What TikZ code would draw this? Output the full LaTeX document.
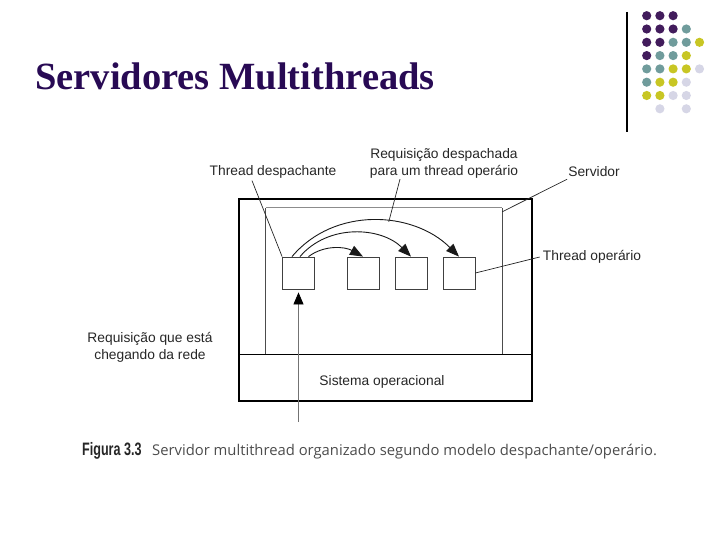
\documentclass[tikz,border=0pt]{standalone}
\usepackage{fontspec}
\usepackage{tikz}
\usetikzlibrary{arrows.meta}
\setmainfont{Liberation Sans}
\newfontfamily\titlefont{Liberation Serif}
\newfontfamily\capfont{Open Sans}

\definecolor{dotP}{RGB}{66,28,92}
\definecolor{dotT}{RGB}{112,156,156}
\definecolor{dotY}{RGB}{200,198,36}
\definecolor{dotL}{RGB}{214,214,230}
\definecolor{titlecol}{RGB}{40,10,84}

\tikzset{
	lbl/.style={font=\fontsize{13.8}{17}\selectfont, text=black!85, inner sep=0pt, align=center},
	thr/.style={draw=black!75, line width=0.8pt, minimum size=32pt, inner sep=0pt},
	lead/.style={draw=black!85, line width=0.7pt},
	disp/.style={draw=black!90, line width=0.9pt, -{Triangle[length=13pt,width=10pt]}},
}

\begin{document}
\begin{tikzpicture}[x=1pt,y=-1pt]
		\useasboundingbox (0,0) rectangle (720,540);

		\foreach \cl [count=\r from 0] in {{dotP,dotP,dotP},{dotP,dotP,dotP,dotT},{dotP,dotP,dotT,dotT,dotY},{dotP,dotT,dotT,dotY},{dotT,dotT,dotY,dotY,dotL},{dotT,dotY,dotY,dotL},{dotY,dotY,dotL,dotL},{none,dotL,none,dotL}}
			\foreach \c [count=\k from 0] in \cl
				\path[fill=\c] (646.7+13.2*\k,15.7+13.3*\r) circle (4.6);
		\draw[line width=2pt] (627,12) -- (627,132);

		\draw (35,90) node[anchor=base west, inner sep=0pt, text=titlecol, font=\titlefont\bfseries\fontsize{38.5}{40}\selectfont] (title) {Servidores Multithreads};

		\draw (385.5,300) node[draw, line width=1.7pt, minimum width=293pt, minimum height=202pt] (server) {};
		\draw[line width=1pt] (server.west |- 0,354) -- (server.east |- 0,354);
		\draw (384,281) node[minimum width=236pt, minimum height=146pt, inner sep=0pt] (app) {};
		\draw[black!70, line width=0.8pt] (app.south west) -- (app.north west);
		\draw[black!45, line width=0.8pt] (app.north west) -- (app.north east);
		\draw[black!70, line width=0.8pt] (app.north east) -- (app.south east);

		\draw (298.5,273) node[thr] (disp) {};
		\draw (363,273) node[thr] (op1) {};
		\draw (411,273) node[thr] (op2) {};
		\draw (459,273) node[thr] (op3) {};

		\draw[disp] ([xshift=10pt]disp.north) .. controls +(16,-12) and +(-18,-10) .. (op1.north);
		\draw[disp] ([xshift=1.5pt]disp.north) .. controls +(28,-33) and +(-30,-30) .. (op2.north);
		\draw[disp] ([xshift=-6.5pt]disp.north) .. controls +(42,-50) and +(-46,-46) .. node[pos=0.58, coordinate] (arc) {} (op3.north);

		\draw (273,172) node[lbl] (tdesp) {Thread despachante};
		\draw (444,163) node[lbl] (reqd) {Requisição despachada\\para um thread operário};
		\draw (594,172) node[lbl] (srv) {Servidor};
		\draw (592,257) node[lbl] (top) {Thread operário};
		\draw (150,347) node[lbl] (reqn) {Requisição que está\\chegando da rede};
		\draw (382,382) node[lbl] (os) {Sistema operacional};

		\draw[lead] ([xshift=-21pt,yshift=-2pt]tdesp.south) -- (disp.north west);
		\draw[lead] ([xshift=-44pt,yshift=-1pt]reqd.south) -- (arc);
		\draw[lead] ([xshift=-1pt,yshift=-2pt]srv.south west) -- ([yshift=-4pt]app.north east);
		\draw[lead] ([xshift=-3pt]top.west) -- (op3.east);

		\coordinate (net) at (298.5,422);
		\draw[black!55, line width=0.8pt, shorten >=3pt, -{Triangle[length=12pt,width=10pt,color=black]}] (net) -- (disp.south);

		\draw (82,455) node[anchor=base west, inner sep=0pt, text=black!85, font=\bfseries\fontsize{18}{20}\selectfont, xscale=0.7] (fig) {Figura 3.3};
		\draw (152,455) node[anchor=base west, inner sep=0pt, text=black!70, font=\capfont\fontsize{14.8}{17}\selectfont] (cap) {Servidor multithread organizado segundo modelo despachante/operário.};
	\end{tikzpicture}
\end{document}
